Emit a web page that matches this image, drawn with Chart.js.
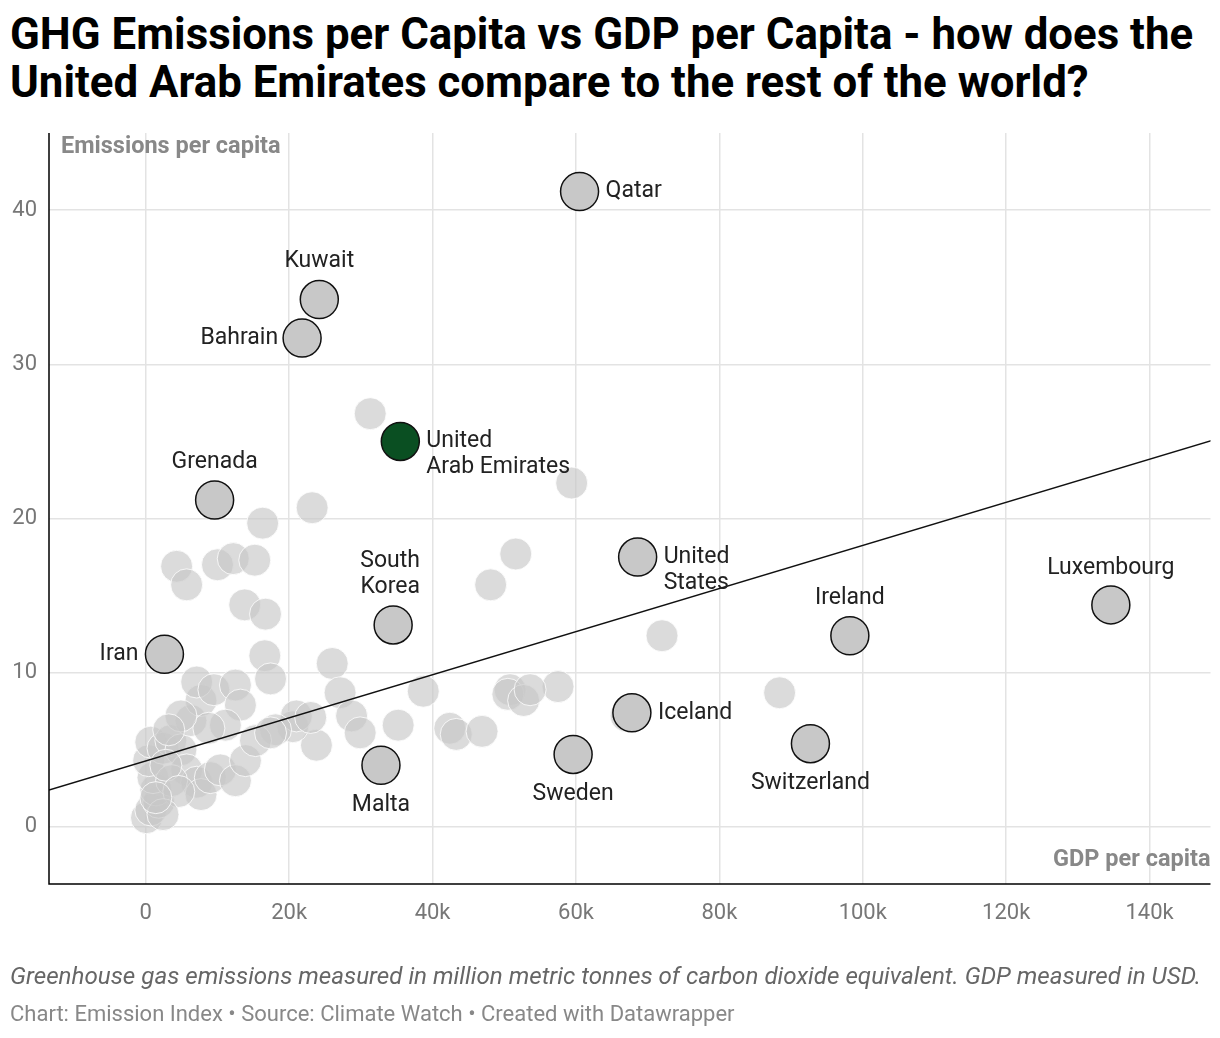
<!DOCTYPE html>
<html><head><meta charset="utf-8">
<script src="https://cdn.jsdelivr.net/npm/chart.js@4"></script>
<style>
body{margin:0;background:#fff;font-family:Roboto,sans-serif;width:1220px;height:1038px;position:relative;overflow:hidden}
#t{position:absolute;left:10px;top:10px;font-size:43.8px;font-weight:700;line-height:48px;color:#000;white-space:nowrap}
#n{position:absolute;left:10px;top:962px;font-size:24.2px;font-style:italic;color:#666;white-space:nowrap}
#s{position:absolute;left:10px;top:1001px;font-size:22px;color:#888;white-space:nowrap}
canvas{position:absolute;left:0;top:0}
</style></head><body>
<div id="t">GHG Emissions per Capita vs GDP per Capita - how does the<br>United Arab Emirates compare to the rest of the world?</div>
<canvas id="c" width="1231" height="1038"></canvas>
<div id="n">Greenhouse gas emissions measured in million metric tonnes of carbon dioxide equivalent. GDP measured in USD.</div>
<div id="s">Chart: Emission Index • Source: Climate Watch • Created with Datawrapper</div>
<script>
// labelled countries
const countries=["Qatar","Kuwait","Bahrain","United Arab Emirates","Grenada","South Korea","Iran","Malta","Sweden","Iceland","United States","Ireland","Switzerland","Luxembourg"];
const gdp=[60500,24200,21800,35500,9600,34500,2600,32800,59600,67800,68600,98200,92700,134600];
const ghg=[41.2,34.2,31.7,25.0,21.2,13.1,11.2,4.0,4.7,7.4,17.5,12.4,5.4,14.4];
// other countries
const otherGdp=[31300,59400,23200,16300,51600,48100,4300,5700,10000,12200,15200,13800,16700,16600,17400,26000,27100,38700,72000,57500,50800,50500,52700,53600,88400,42400,43300,46900,35200,28700,29900,23800,20500,21000,23000,18100,67000,
100,700,1800,1400,1000,400,700,2400,3500,4900,5700,7100,7700,9000,10400,12500,13900,15300,17400,6300,7700,7100,9500,12500,13200,11100,8800,4900,3200,3600,2800,4600,2400,1400];
const otherGhg=[26.8,22.3,20.7,19.7,17.7,15.7,16.9,15.7,17,17.4,17.3,14.4,13.8,11.1,9.6,10.6,8.7,8.8,12.4,9.1,8.9,8.6,8.2,8.9,8.7,6.4,6,6.2,6.6,7.2,6.1,5.3,6.5,7.2,7.1,6.3,7.2,
0.6,1.1,1.6,2.4,3.2,4.3,5.5,5.1,5.6,5,3.7,2.9,2.1,3.2,3.7,3,4.3,5.6,6.1,6.9,8.2,9.4,8.9,9.2,7.9,6.6,6.4,7.2,6.3,3,4,2.3,0.8,1.9];
const trendX=[-13500,149000];
const trendY=[2.39,25.1];
const xTicks=[0,20000,40000,60000,80000,100000,120000,140000];

const labelPos={
 "Qatar":[26,0,"left"],"Kuwait":[0,-38,"center"],"Bahrain":[-24,0,"right"],
 "United Arab Emirates":[26,0,"left",["United","Arab Emirates"]],
 "Grenada":[0,-38,"center"],"South Korea":[-3,-64,"center",["South","Korea"]],
 "Iran":[-26,0,"right"],"Malta":[0,40,"center"],"Sweden":[0,40,"center"],
 "Iceland":[26,0,"left"],"United States":[26,0,"left",["United","States"]],
 "Ireland":[0,-37,"center"],"Switzerland":[0,40,"center"],"Luxembourg":[0,-37,"center"]};

const labels={id:"labels",afterDatasetsDraw(ch){
 const c=ch.ctx,x=ch.scales.x,y=ch.scales.y,a=ch.chartArea;
 c.save();c.font="23px Roboto";c.fillStyle="#222";c.textBaseline="middle";
 countries.forEach((n,i)=>{
  const p=labelPos[n];c.textAlign=p[2];
  const px=x.getPixelForValue(gdp[i])+p[0],py=y.getPixelForValue(ghg[i])+p[1];
  if(p[3]){c.fillText(p[3][0],px,py);c.fillText(p[3][1],px,py+26);}
  else c.fillText(n,px,py);
 });
 c.font="bold 23.5px Roboto";c.fillStyle="#888";
 c.textAlign="left";c.fillText("Emissions per capita",a.left+12,a.top+14);
 c.textAlign="right";c.fillText("GDP per capita",a.right,a.bottom-24);
 c.strokeStyle="#000";c.lineWidth=1.5;c.beginPath();
 c.moveTo(a.left,a.top);c.lineTo(a.left,a.bottom);c.lineTo(a.right,a.bottom);c.stroke();
 c.restore();
}};

new Chart(document.getElementById("c"),{
 type:"scatter",
 data:{datasets:[
  {data:otherGdp.map((v,i)=>({x:v,y:otherGhg[i]})),pointRadius:16,pointBackgroundColor:"rgba(200,200,200,0.65)",pointBorderColor:"rgba(255,255,255,0.8)",pointBorderWidth:1,order:3},
  {type:"line",data:trendX.map((v,i)=>({x:v,y:trendY[i]})),borderColor:"#111",borderWidth:1.5,pointRadius:0,order:2},
  {data:gdp.map((v,i)=>({x:v,y:ghg[i]})),pointRadius:19,pointBorderWidth:1.5,pointBorderColor:"#111",
   pointBackgroundColor:countries.map(n=>n==="United Arab Emirates"?"#0a4f22":"#c8c8c8"),order:1}
 ]},
 options:{responsive:false,animation:false,
  layout:{padding:{top:133,right:10,left:0,bottom:0}},
  plugins:{legend:{display:false},tooltip:{enabled:false}},
  scales:{
   x:{min:-13500,max:148500,afterFit:s=>{s.height=154;s.paddingRight=0;s.paddingLeft=0},
    afterBuildTicks:s=>{s.ticks=xTicks.map(v=>({value:v}))},
    grid:{color:"#e3e3e3",lineWidth:1.5,drawTicks:false},border:{display:false},
    ticks:{padding:16,color:"#777",font:{family:"Roboto",size:22},callback:v=>v===0?"0":v/1000+"k"}},
   y:{min:-3.7,max:45,afterFit:s=>{s.width=49;s.paddingTop=0;s.paddingBottom=0},
    afterBuildTicks:s=>{s.ticks=[0,10,20,30,40].map(v=>({value:v}))},
    grid:{color:"#e3e3e3",lineWidth:1.5,drawTicks:false},border:{display:false},
    ticks:{padding:12,color:"#777",font:{family:"Roboto",size:22}}}
  }},
 plugins:[labels]
});
</script></body></html>
